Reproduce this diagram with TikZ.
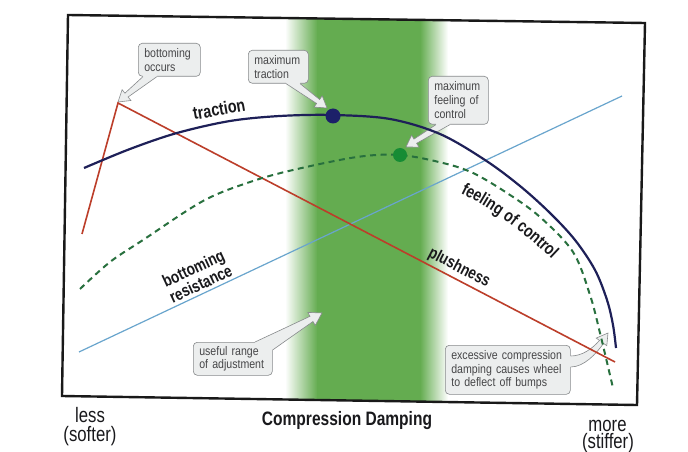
\documentclass[tikz,border=0pt]{standalone}
\usepackage{fontspec}
\setmainfont{Liberation Sans}
\newfontfamily\condfont{Liberation Sans}[FakeStretch=0.85]
\newfontfamily\labfont{Liberation Sans}[FakeStretch=0.8]
\usetikzlibrary{calc,decorations.text}
\definecolor{bandgreen}{RGB}{100,172,80}
\definecolor{trnavy}{RGB}{30,32,88}
\definecolor{navydot}{RGB}{28,32,105}
\definecolor{dgreen}{RGB}{40,112,62}
\definecolor{dotgreen}{RGB}{22,140,52}
\definecolor{plushred}{RGB}{188,62,42}
\definecolor{bluel}{RGB}{105,165,205}
\definecolor{boxfill}{RGB}{236,238,238}
\definecolor{boxline}{RGB}{135,138,140}
\definecolor{calltext}{RGB}{70,70,72}
\definecolor{labtext}{RGB}{25,25,28}
\definecolor{framecol}{RGB}{25,25,25}
\begin{document}
\begin{tikzpicture}[x=1bp,y=-1bp,
  callbox/.style={draw=boxline, fill=boxfill, rounded corners=4bp, line width=0.6bp,
    inner xsep=6bp, inner ysep=2bp, align=left, anchor=north west, text=calltext,
    font=\condfont\fontsize{12.5}{14}\selectfont},
  tailline/.style={draw=boxline, line width=0.6bp, line join=miter},
  tailfill/.style={fill=boxfill},
  dotnode/.style={circle, inner sep=0pt, minimum size=15bp},
  lab/.style={inner sep=0pt, text=labtext, font=\labfont\bfseries\fontsize{17}{17}\selectfont},
  botlab/.style={inner sep=0pt, anchor=base, text=labtext, font=\labfont\fontsize{21}{21}\selectfont},
  tractionline/.style={draw=trnavy, line width=2.2bp},
  feelline/.style={draw=dgreen, line width=2bp, dash pattern=on 6bp off 4.5bp},
  plushline/.style={draw=plushred, line width=1.6bp, line join=miter},
  resline/.style={draw=bluel, line width=1.2bp},
  framestyle/.style={draw=framecol, line width=2.4bp, line join=miter}
]
\useasboundingbox (0,0) rectangle (688,452);
\fill[white] (0,0) rectangle (688,452);

% green band
\begin{scope}
  \clip (68,15) -- (645,23) -- (637,405) -- (62,396) -- cycle;
  \shade[left color=white, right color=bandgreen] (285,0) rectangle (317.5,452);
  \fill[bandgreen] (317,0) rectangle (420.5,452);
  \shade[left color=bandgreen, right color=white] (420,0) rectangle (448,452);
\end{scope}

% callout: bottoming occurs
\node[callbox, text width=50bp, minimum height=33bp] (cbot) at (138,43) {bottoming\\occurs};
\coordinate (tipbot) at (118,102);
\fill[tailfill] ($(cbot.south west)+(5,-2)$) -- ($(cbot.south west)+(5,0)$) -- (124.9,93.2) -- (122.1,89.7) -- (tipbot) -- (130.9,100.5) -- (128.1,97.0) -- ($(cbot.south west)+(19,0)$) -- ($(cbot.south west)+(19,-2)$) -- cycle;
\draw[tailline] ($(cbot.south west)+(5,0)$) -- (124.9,93.2) -- (122.1,89.7) -- (tipbot) -- (130.9,100.5) -- (128.1,97.0) -- ($(cbot.south west)+(19,0)$);

% callout: maximum traction
\node[callbox, text width=48bp, minimum height=33bp] (ctrac) at (248,50) {maximum\\traction};
\coordinate (tiptrac) at (327,108);
\fill[tailfill] ($(ctrac.south west)+(38,-2)$) -- ($(ctrac.south west)+(38,0)$) -- (316.6,103.5) -- (314.0,107.1) -- (tiptrac) -- (322.2,95.9) -- (319.6,99.5) -- ($(ctrac.south west)+(52,0)$) -- ($(ctrac.south west)+(52,-2)$) -- cycle;
\draw[tailline] ($(ctrac.south west)+(38,0)$) -- (316.6,103.5) -- (314.0,107.1) -- (tiptrac) -- (322.2,95.9) -- (319.6,99.5) -- ($(ctrac.south west)+(52,0)$);

% callout: maximum feeling of control
\node[callbox, text width=48bp, minimum height=48bp] (cfeel) at (428,76) {maximum\\feeling of\\control};
\coordinate (tipfeel) at (406,147);
\fill[tailfill] ($(cfeel.south west)+(8,-2)$) -- ($(cfeel.south west)+(8,0)$) -- (414.0,139.1) -- (411.6,135.3) -- (tipfeel) -- (419.0,147.1) -- (416.6,143.3) -- ($(cfeel.south west)+(22,0)$) -- ($(cfeel.south west)+(22,-2)$) -- cycle;
\draw[tailline] ($(cfeel.south west)+(8,0)$) -- (414.0,139.1) -- (411.6,135.3) -- (tipfeel) -- (419.0,147.1) -- (416.6,143.3) -- ($(cfeel.south west)+(22,0)$);

% callout: useful range of adjustment
\node[callbox, text width=67bp, minimum height=33bp] (cuse) at (193,342) {useful range\\of adjustment};
\coordinate (tipuse) at (322,313);
\fill[tailfill] ($(cuse.north west)+(62,2)$) -- ($(cuse.north west)+(62,0)$) -- (310.0,316.3) -- (307.8,312.4) -- (tipuse) -- (315.2,325.4) -- (313.0,321.5) -- ($(cuse.north east)+(0,8)$) -- ($(cuse.north east)+(-2,8)$) -- cycle;
\draw[tailline] ($(cuse.north west)+(62,0)$) -- (310.0,316.3) -- (307.8,312.4) -- (tipuse) -- (315.2,325.4) -- (313.0,321.5) -- ($(cuse.north east)+(0,8)$);

% callout: excessive compression damping
\node[callbox, text width=113bp, minimum height=49bp] (cexc) at (445,345) {excessive compression\\damping causes wheel\\to deflect off bumps};
\coordinate (tipexc) at (608,333);
\fill[tailfill] ($(cexc.north east)+(-2,11)$) -- ($(cexc.north east)+(0,11)$) .. controls (582,356) and (592,349) .. (599.5,340.4) -- (596.2,338.1) -- (tipexc) -- (606.8,345.7) -- (603.5,343.4) .. controls (596,354) and (584,367) .. ($(cexc.north east)+(0,22)$) -- ($(cexc.north east)+(-2,22)$) -- cycle;
\draw[tailline] ($(cexc.north east)+(0,11)$) .. controls (582,356) and (592,349) .. (599.5,340.4) -- (596.2,338.1) -- (tipexc) -- (606.8,345.7) -- (603.5,343.4) .. controls (596,354) and (584,367) .. ($(cexc.north east)+(0,22)$);

% curves and lines
\coordinate (bl) at (79,352);
\coordinate (br) at (622,96);
\draw[resline] (bl) -- (br);
\coordinate (pa) at (82,234);
\coordinate (pv) at (118,103);
\coordinate (pb) at (615,362);
\draw[plushline] (pa) -- (pv) -- (pb);
\draw[feelline] plot[smooth, tension=0.55] coordinates {(80,289) (110,262) (143,240) (203,201) (250,182) (293,170) (357,157) (400,155) (443,163) (473,173) (507,193) (540,217) (573,252) (590,295) (600,333) (613,388)};
\draw[tractionline] plot[smooth, tension=0.55] coordinates {(84,168) (130,149) (177,133) (230,121) (280,116) (333,115) (390,119) (440,134) (485,160) (520,186) (550,213) (575,240) (595,270) (607,300) (613,325) (616,348)};

% points
\node[dotnode, fill=navydot] (maxtr) at (333,116) {};
\node[dotnode, fill=dotgreen, minimum size=14bp] (maxfeel) at (400,155) {};

% curve labels
\node[lab, rotate=10, font=\labfont\bfseries\fontsize{18}{18}\selectfont] (ltrac) at (219,109) {traction};
\node[lab, rotate=-27.5] (lplush) at (459,268) {plushness};
\node[lab, rotate=25, align=center, font=\labfont\bfseries\fontsize{17}{17}\selectfont] (lres) at (197,276) {bottoming\\resistance};
\path[decorate, decoration={text along path, text align=center, text color=labtext,
  text={|\labfont\bfseries\fontsize{17.5}{17.5}\selectfont|feeling of control}}]
  (449,188) .. controls (487,204) and (527,234) .. (561,268);

% frame
\draw[framestyle] (68,15) -- (645,23) -- (637,405) -- (62,396) -- cycle;

% axis texts
\node[botlab] (less) at (90,422.5) {less};
\node[botlab] (softer) at (90,441) {(softer)};
\node[botlab, font=\labfont\bfseries\fontsize{19.5}{19.5}\selectfont] (axis) at (347,425) {Compression Damping};
\node[botlab] (more) at (607.5,431) {more};
\node[botlab] (stiffer) at (608,448.5) {(stiffer)};
\end{tikzpicture}
\end{document}
